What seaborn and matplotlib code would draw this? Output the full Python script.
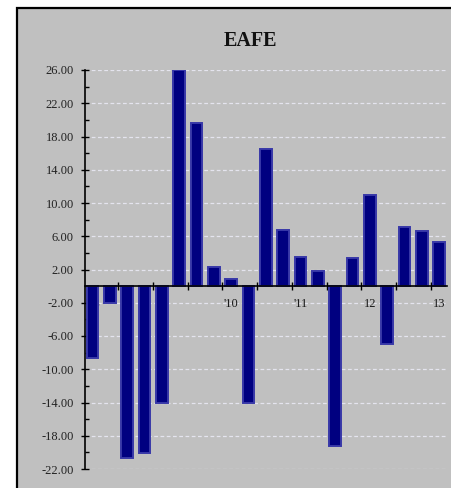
import matplotlib
matplotlib.use("Agg")
import matplotlib.pyplot as plt
from matplotlib.patches import Rectangle
import matplotlib.ticker as mticker
import seaborn as sns
import pandas as pd

# Quarterly EAFE returns (%), Q1 2008 .. Q1 2013
quarters = [
    "Q1 08", "Q2 08", "Q3 08", "Q4 08",
    "Q1 09", "Q2 09", "Q3 09", "Q4 09",
    "Q1 10", "Q2 10", "Q3 10", "Q4 10",
    "Q1 11", "Q2 11", "Q3 11", "Q4 11",
    "Q1 12", "Q2 12", "Q3 12", "Q4 12",
    "Q1 13",
]
returns = [
    -8.7, -2.0, -20.7, -20.1,
    -14.1, 26.0, 19.6, 2.25,
    0.9, -14.0, 16.5, 6.7,
    3.5, 1.85, -19.2, 3.4,
    11.0, -7.0, 7.1, 6.6,
    5.25,
]
year_labels = ["'08", "'09", "'10", "'11", "12", "13"]
year_positions = [0, 4, 8, 12, 16, 20]
y_major = [26, 22, 18, 14, 10, 6, 2, -2, -6, -10, -14, -18, -22]

df = pd.DataFrame({"quarter": quarters, "ret": returns})

sns.set_theme(style="white")
plt.rcParams["font.family"] = ["Liberation Serif", "DejaVu Serif"]

W, H = 452, 488
fig = plt.figure(figsize=(W / 100, H / 100), dpi=100)
fig.patch.set_facecolor("white")

# grey chart panel with a black border (right and bottom edges run off the canvas)
panel = Rectangle((17.5 / W, -0.05), 1.5, (H - 7.5) / H + 0.05,
                  transform=fig.transFigure, facecolor="#C0C0C0",
                  edgecolor="black", linewidth=1.6, zorder=-5)
fig.patches.append(panel)

ax = fig.add_axes([85 / W, 19 / H, (447 - 85) / W, (469 - 70) / H])
ax.set_zorder(1)
ax.set_facecolor("#C0C0C0")

sns.barplot(data=df, x="quarter", y="ret", order=quarters, ax=ax,
            color="#000080", saturation=1, width=0.68,
            edgecolor="#3838A8", linewidth=1.4, errorbar=None)

ax.set_xlim(-0.43, 20.45)
ax.set_ylim(-22, 26)

# dashed grid behind the bars
for v in y_major:
    ax.axhline(v, color="#E4E4EE", linestyle=(0, (3, 2)), linewidth=0.9, zorder=0)

for s in ("top", "right"):
    ax.spines[s].set_visible(False)
ax.spines["left"].set_color("black")
ax.spines["left"].set_linewidth(1.2)
ax.spines["bottom"].set_position(("data", 0))
ax.spines["bottom"].set_color("black")
ax.spines["bottom"].set_linewidth(1.2)

ax.yaxis.set_major_locator(mticker.FixedLocator(y_major))
ax.yaxis.set_minor_locator(mticker.FixedLocator([v - 2 for v in y_major[:-1]]))
ax.yaxis.set_major_formatter(mticker.FuncFormatter(lambda v, p: f"{v:.2f}"))
ax.tick_params(axis="y", which="major", direction="inout", length=6, width=1,
               color="black", labelsize=9, labelcolor="#222222", pad=5, left=True)
ax.tick_params(axis="y", which="minor", direction="in", length=3, width=1,
               color="black", left=True)

ax.set_xticks(year_positions)
ax.set_xticklabels(year_labels)
ax.xaxis.set_minor_locator(mticker.FixedLocator([i + 1.5 for i in range(0, 20, 2)]))
ax.tick_params(axis="x", which="major", length=0, labelsize=9,
               labelcolor="#1a1a1a", pad=8.5, bottom=True)
ax.tick_params(axis="x", which="minor", direction="inout", length=6, width=1,
               color="black", bottom=True)

ax.set_xlabel("")
ax.set_ylabel("")

fig.text(250 / W, 1 - 41 / H, "EAFE", ha="center", va="center",
         fontsize=14.5, fontweight="bold", color="#111111")

fig.savefig("out.png", dpi=100)
